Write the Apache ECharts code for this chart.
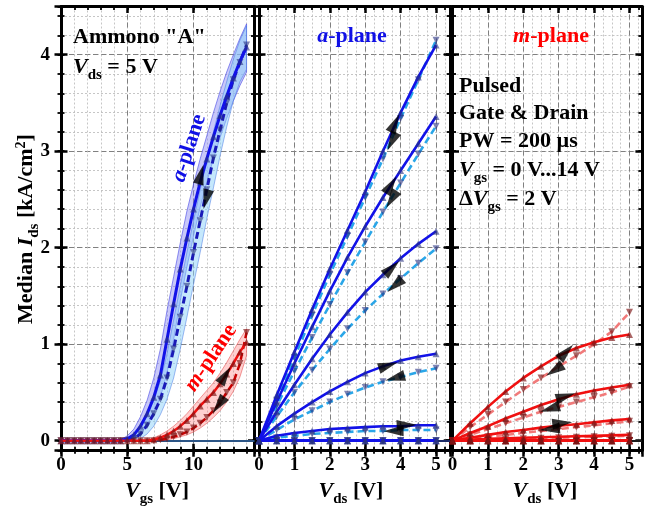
<!DOCTYPE html>
<html>
<head>
<meta charset="utf-8">
<script src="https://cdn.jsdelivr.net/npm/echarts@6.0.0/dist/echarts.min.js"></script>
<style>
html,body{margin:0;padding:0;background:#ffffff;}
#chart{width:652px;height:508px;}
</style>
</head>
<body>
<div id="chart"></div>
<script>
// ================= DATA =================
const vgsSweep = [0,0.5,1,1.5,2,2.5,3,3.5,4,4.5,5,5.5,6,6.5,7,7.5,8,8.5,9,9.5,10,10.5,11,11.5,12,12.5,13,13.5,14];
const vdsSweep = [0,0.5,1,1.5,2,2.5,3,3.5,4,4.5,5];

// Transfer curves (Vds = 5 V), median Ids [kA/cm2]
const aTransFwd = [0,0,0,0,0,0,0,0,0,0,0.02,0.06,0.15,0.28,0.45,0.68,1.05,1.42,1.78,2.1,2.4,2.68,2.92,3.15,3.37,3.57,3.76,3.93,4.08];
const aTransRev = [0,0,0,0,0,0,0,0,0,0,0,0.02,0.07,0.16,0.28,0.43,0.65,0.95,1.28,1.6,1.95,2.28,2.6,2.93,3.22,3.5,3.74,3.92,4.1];
const aFwdBandHi = [0,0,0,0,0,0,0,0,0,0.01,0.05,0.12,0.25,0.42,0.65,0.95,1.35,1.7,2.05,2.38,2.66,2.92,3.16,3.4,3.62,3.82,4.0,4.17,4.32];
const aFwdBandLo = [0,0,0,0,0,0,0,0,0,0,0,0.02,0.07,0.16,0.29,0.45,0.7,1.05,1.45,1.8,2.12,2.42,2.68,2.92,3.14,3.34,3.52,3.68,3.82];
const aRevBandHi = [0,0,0,0,0,0,0,0,0,0,0.02,0.06,0.14,0.26,0.42,0.62,0.9,1.25,1.6,1.95,2.28,2.6,2.9,3.2,3.47,3.72,3.95,4.15,4.3];
const aRevBandLo = [0,0,0,0,0,0,0,0,0,0,0,0,0.02,0.07,0.15,0.27,0.43,0.65,0.95,1.28,1.62,1.95,2.3,2.62,2.95,3.25,3.52,3.72,3.85];
const mTransFwd = [0,0,0,0,0,0,0,0,0,0,0,0,0,0,0.01,0.03,0.06,0.1,0.15,0.21,0.28,0.36,0.43,0.5,0.59,0.69,0.8,0.92,1.02];
const mTransRev = [0,0,0,0,0,0,0,0,0,0,0,0,0,0,0,0.01,0.02,0.04,0.06,0.09,0.13,0.18,0.24,0.31,0.39,0.5,0.6,0.8,1.12];
const mBandHi = [0,0,0,0,0,0,0,0,0,0,0,0,0,0.01,0.03,0.06,0.1,0.15,0.21,0.28,0.36,0.44,0.52,0.6,0.7,0.81,0.93,1.05,1.16];
const mBandLo = [0,0,0,0,0,0,0,0,0,0,0,0,0,0,0,0,0.01,0.02,0.04,0.06,0.09,0.13,0.18,0.24,0.31,0.4,0.51,0.66,0.88];

// Output curves a-plane (Vgs = 0..14 V, step 2 V)
const aOutFwd14 = [0,0.47,0.92,1.36,1.78,2.18,2.58,3.0,3.4,3.77,4.1];
const aOutRev14 = [0,0.42,0.86,1.3,1.72,2.12,2.52,2.92,3.34,3.74,4.15];
const aOutFwd12 = [0,0.4,0.8,1.18,1.55,1.9,2.22,2.52,2.8,3.08,3.36];
const aOutRev12 = [0,0.36,0.72,1.07,1.41,1.74,2.06,2.37,2.67,2.97,3.26];
const aOutFwd10 = [0,0.3,0.58,0.85,1.1,1.33,1.54,1.72,1.89,2.04,2.17];
const aOutRev10 = [0,0.25,0.5,0.73,0.95,1.16,1.35,1.52,1.68,1.84,1.99];
const aOutFwd8 = [0,0.15,0.28,0.4,0.51,0.61,0.7,0.77,0.83,0.87,0.9];
const aOutRev8 = [0,0.11,0.22,0.31,0.4,0.48,0.55,0.61,0.66,0.71,0.75];
const aOutFwd6 = [0,0.05,0.08,0.1,0.12,0.13,0.14,0.15,0.15,0.16,0.16];
const aOutRev6 = [0,0.03,0.05,0.07,0.08,0.09,0.1,0.1,0.11,0.11,0.11];
const aOutOff = [0,0,0,0,0,0,0,0,0,0,0];   // Vgs = 0, 2, 4 V

// Output curves m-plane
const mOutFwd14 = [0,0.18,0.35,0.51,0.65,0.77,0.88,0.96,1.02,1.07,1.1];
const mOutRev14 = [0,0.14,0.27,0.4,0.53,0.65,0.77,0.88,1.0,1.13,1.33];
const mOutFwd12 = [0,0.08,0.15,0.23,0.3,0.37,0.43,0.48,0.52,0.55,0.58];
const mOutRev12 = [0,0.06,0.12,0.18,0.24,0.3,0.35,0.4,0.45,0.5,0.56];
const mOutFwd10 = [0,0.03,0.06,0.09,0.11,0.135,0.155,0.17,0.19,0.21,0.225];
const mOutRev10 = [0,0.02,0.04,0.06,0.08,0.1,0.12,0.14,0.16,0.18,0.2];
const mOutFwd8 = [0,0.01,0.02,0.025,0.03,0.035,0.04,0.045,0.05,0.055,0.06];
const mOutRev8 = [0,0.005,0.01,0.015,0.02,0.025,0.03,0.035,0.04,0.045,0.05];
const mOutOff = [0,0,0,0,0,0,0,0,0,0,0];

// Sweep-direction arrows: [x, y, rotation deg]
const arrowsTransfer = [[10.55,2.76,-15],[10.95,2.5,165],[12.4,0.68,-33],[11.9,0.37,144]];
const arrowsAOut = [[3.84,3.29,-26],[3.75,3.1,154],[3.73,2.65,-33],[3.74,2.5,148],[3.75,1.79,-47],[3.84,1.61,131],[3.65,0.78,-72],[3.84,0.65,105],[4.17,0.16,-88],[3.8,0.1,91]];
const arrowsMOut = [[3.21,0.92,-44],[2.88,0.73,123],[3.2,0.46,-73],[2.75,0.33,107],[3.1,0.18,-84],[2.75,0.12,96]];

// Tick labels
const xTicksVgs = [0,5,10];
const xTicksVds = [0,1,2,3,4,5];
const yTicks = [0,1,2,3,4];

// ================= CHART =================
const FF = '"Liberation Serif", "Times New Roman", serif';
const fnt = (size, italic) => (italic ? 'italic ' : '') + 'bold ' + size + 'px ' + FF;
const pts = (xs, ys) => xs.map((x, i) => [x, ys[i]]);

const YMIN = -0.1, YMAX = 4.5;
const panels = [
  {left: 61,    width: 193.5, xmax: 14.6, xMajor: 5, xMinor: 1,    xLabels: xTicksVgs, yLabels: true},
  {left: 259,   width: 191.2, xmax: 5.4,  xMajor: 1, xMinor: 0.25, xLabels: xTicksVds, yLabels: false},
  {left: 452.5, width: 189.4, xmax: 5.35, xMajor: 1, xMinor: 0.25, xLabels: xTicksVds, yLabels: false}
];
const MAJOR = {color: '#808080', type: [5, 3], width: 1};
const MINOR = {color: '#b8b8b8', type: [2, 2], width: 0.8};
const tk = (inside, len, w) => ({show: true, inside: inside, length: len, lineStyle: {color: '#000', width: w}});
const BORDER = {show: true, onZero: false, lineStyle: {color: '#000', width: 3}};
const labelStyle = {color: '#000', fontFamily: FF, fontWeight: 'bold', fontSize: 19};

const grids = [], xAxes = [], yAxes = [];
panels.forEach((p, gi) => {
  grids.push({left: p.left, top: 6.5, width: p.width, height: 443.8, outerBoundsMode: 'none'});
  const bx = {type: 'value', gridIndex: gi, min: 0, max: p.xmax, axisLabel: {show: false}, splitLine: {show: false}, axisLine: {show: false, onZero: false}};
  xAxes.push(
    Object.assign({}, bx, {position: 'bottom', interval: p.xMinor, axisTick: tk(false, 3.5, 1.8), splitLine: {show: true, lineStyle: MINOR}}),
    Object.assign({}, bx, {position: 'bottom', interval: p.xMinor, axisTick: tk(true, 3.5, 1.8)}),
    Object.assign({}, bx, {position: 'top', interval: p.xMinor, axisTick: tk(true, 3.5, 1.8)}),
    Object.assign({}, bx, {position: 'bottom', interval: p.xMajor, axisTick: tk(true, 6.5, 2.5)}),
    Object.assign({}, bx, {position: 'top', interval: p.xMajor, axisTick: tk(true, 6.5, 2.5), axisLine: BORDER}),
    Object.assign({}, bx, {position: 'bottom', interval: p.xMajor, axisTick: tk(false, 6.5, 2.5), axisLine: BORDER,
      axisLabel: Object.assign({show: true, margin: 5, formatter: v => p.xLabels.includes(v) ? String(v) : ''}, labelStyle),
      splitLine: {show: true, lineStyle: MAJOR}})
  );
  const by = {type: 'value', gridIndex: gi, min: YMIN, max: YMAX, axisLabel: {show: false}, splitLine: {show: false}, axisLine: {show: false, onZero: false}};
  yAxes.push(
    Object.assign({}, by, {position: 'left', splitNumber: 23, axisTick: tk(false, 3.5, 1.8), splitLine: {show: true, lineStyle: MINOR}}),
    Object.assign({}, by, {position: 'left', splitNumber: 23, axisTick: tk(true, 3.5, 1.8)}),
    Object.assign({}, by, {position: 'right', splitNumber: 23, axisTick: tk(true, 3.5, 1.8)}),
    Object.assign({}, by, {position: 'left', splitNumber: 5, axisTick: tk(true, 6.5, 2.5)}),
    Object.assign({}, by, {position: 'right', splitNumber: 5, axisTick: tk(true, 6.5, 2.5), axisLine: BORDER}),
    Object.assign({}, by, {position: 'left', splitNumber: 5, axisTick: tk(false, 6.5, 2.5), axisLine: BORDER,
      axisLabel: Object.assign({show: p.yLabels, margin: 11, formatter: v => yTicks.includes(v) ? String(v) : ''}, labelStyle),
      splitLine: {show: true, lineStyle: MAJOR}})
  );
});
const AX = gi => gi * 6 + 5;

function curve(gi, xs, ys, color, dashed, markColor, up, width) {
  return {
    type: 'line', xAxisIndex: AX(gi), yAxisIndex: AX(gi), data: pts(xs, ys),
    z: dashed ? 3 : 4, silent: true,
    lineStyle: {color: color, width: width || 2.6, type: dashed ? [7, 4] : 'solid'},
    symbol: 'triangle', symbolSize: 7, symbolRotate: up ? 0 : 180, showSymbol: true,
    itemStyle: {color: markColor, borderWidth: 0}
  };
}
// spread band between two typed bounds, drawn as one polygon through the axis scales
function band(gi, xs, lo, hi, fill, edge) {
  return {
    type: 'custom', xAxisIndex: AX(gi), yAxisIndex: AX(gi), silent: true, z: 1, clip: true,
    data: [[xs[0], lo[0]]],
    renderItem: function (params, api) {
      const top = xs.map((x, i) => api.coord([x, hi[i]]));
      const bot = xs.map((x, i) => api.coord([x, lo[i]])).reverse();
      return {type: 'polygon', shape: {points: top.concat(bot)}, style: {fill: fill, stroke: edge, lineWidth: 1}};
    }
  };
}
function zeroLine(gi, color) {
  return {type: 'line', xAxisIndex: AX(gi), yAxisIndex: AX(gi), data: [], silent: true,
    markLine: {silent: true, symbol: ['none', 'none'], z: 1, label: {show: false}, animation: false,
      lineStyle: {color: color, width: 2, type: 'solid'}, data: [{yAxis: 0}]}};
}
function arrows(gi, list) {
  return {type: 'scatter', xAxisIndex: AX(gi), yAxisIndex: AX(gi), z: 6, silent: true,
    symbol: 'triangle', symbolSize: [11, 20], itemStyle: {color: '#000'},
    data: list.map(a => ({value: [a[0], a[1]], symbolRotate: a[2]}))};
}

const BLUE = '#1212e8', DBLUE = '#1a1ab8', LBLUE = '#2aa6e8', RED = '#f01010', DRED = '#c80000', PINK = 'rgba(240,115,115,0.95)';
const MK_B = 'rgba(40,50,130,0.6)', MK_R = 'rgba(125,20,20,0.65)';

const series = [];
// Panel 1: transfer
series.push(zeroLine(0, '#2c5586'));
series.push(band(0, vgsSweep, aFwdBandLo, aFwdBandHi, 'rgba(125,125,240,0.42)', 'rgba(70,70,230,0.6)'));
series.push(band(0, vgsSweep, aRevBandLo, aRevBandHi, 'rgba(140,210,250,0.5)', 'rgba(70,120,230,0.5)'));
series.push(band(0, vgsSweep, mBandLo, mBandHi, 'rgba(255,120,120,0.35)', 'rgba(230,60,60,0.5)'));
series.push(curve(0, vgsSweep, aTransRev, DBLUE, true, MK_B, false, 3));
series.push(curve(0, vgsSweep, aTransFwd, BLUE, false, MK_B, true, 3));
series.push(curve(0, vgsSweep, mTransRev, DRED, true, MK_R, false, 2.5));
series.push(curve(0, vgsSweep, mTransFwd, RED, false, MK_R, true, 2.5));
series.push(arrows(0, arrowsTransfer));
// Panel 2: a-plane output
series.push(zeroLine(1, '#1b2a66'));
[[aOutRev14, aOutFwd14], [aOutRev12, aOutFwd12], [aOutRev10, aOutFwd10], [aOutRev8, aOutFwd8], [aOutRev6, aOutFwd6], [aOutOff, aOutOff], [aOutOff, aOutOff], [aOutOff, aOutOff]]
  .forEach(pair => {
    series.push(curve(1, vdsSweep, pair[0], LBLUE, true, MK_B, false));
    series.push(curve(1, vdsSweep, pair[1], BLUE, false, MK_B, true));
  });
series.push(arrows(1, arrowsAOut));
// Panel 3: m-plane output
series.push(zeroLine(2, '#1a1a1a'));
[[mOutRev14, mOutFwd14], [mOutRev12, mOutFwd12], [mOutRev10, mOutFwd10], [mOutRev8, mOutFwd8], [mOutOff, mOutOff], [mOutOff, mOutOff], [mOutOff, mOutOff], [mOutOff, mOutOff]]
  .forEach(pair => {
    series.push(curve(2, vdsSweep, pair[0], PINK, true, MK_R, false));
    series.push(curve(2, vdsSweep, pair[1], RED, false, MK_R, true));
  });
series.push(arrows(2, arrowsMOut));

// ---- text annotations ----
function R(c) {
  return {
    b: {font: fnt(22), fill: c},
    i: {font: fnt(22, true), fill: c},
    s: {font: fnt(15), fill: c, padding: [16, 0, 0, 0]},
    p: {font: fnt(14), fill: c, padding: [0, 0, 10, 0]}
  };
}
function T(x, y, text, c, align, valign, rotDeg) {
  return {type: 'text', x: x, y: y, rotation: (rotDeg || 0) * Math.PI / 180, z: 100, silent: true,
    style: {text: text, rich: R(c), fill: c, font: fnt(22),
      align: align || 'left', textAlign: align || 'left',
      verticalAlign: valign || 'top', textVerticalAlign: valign || 'top'}};
}
const K = '#000', TB = '#1010e6', TR = '#ff0000';
const graphics = [
  T(73, 26, '{b|Ammono "A"}', K),
  T(73, 52, '{i|V}{s|ds}{b| = 5 V}', K),
  T(352, 25.5, '{i|a}{b|-plane}', TB, 'center'),
  T(551, 25.5, '{i|m}{b|-plane}', TR, 'center'),
  T(459, 75, '{b|Pulsed}', K),
  T(459, 102.3, '{b|Gate & Drain}', K),
  T(459, 130.3, '{b|PW = 200 µs}', K),
  T(459, 154.5, '{i|V}{s|gs}{b| = 0 V...14 V}', K),
  T(459, 183.5, '{b|Δ}{i|V}{s|gs}{b| = 2 V}', K),
  T(189, 148, '{i|a}{b|-plane}', TB, 'center', 'middle', 72),
  T(211, 358, '{i|m}{b|-plane}', TR, 'center', 'middle', 56),
  T(26, 229, '{b|Median }{i|I}{s|ds}{b| [kA/cm}{p|2}{b|]}', K, 'center', 'middle', 90),
  T(157, 476, '{i|V}{s|gs}{b| [V]}', K, 'center'),
  T(351, 476, '{i|V}{s|ds}{b| [V]}', K, 'center'),
  T(545, 476, '{i|V}{s|ds}{b| [V]}', K, 'center')
];

const chart = echarts.init(document.getElementById('chart'), null, {renderer: 'canvas'});
chart.setOption({
  animation: false,
  backgroundColor: '#ffffff',
  grid: grids,
  xAxis: xAxes,
  yAxis: yAxes,
  series: series,
  graphic: {elements: graphics}
});
</script>
</body>
</html>
